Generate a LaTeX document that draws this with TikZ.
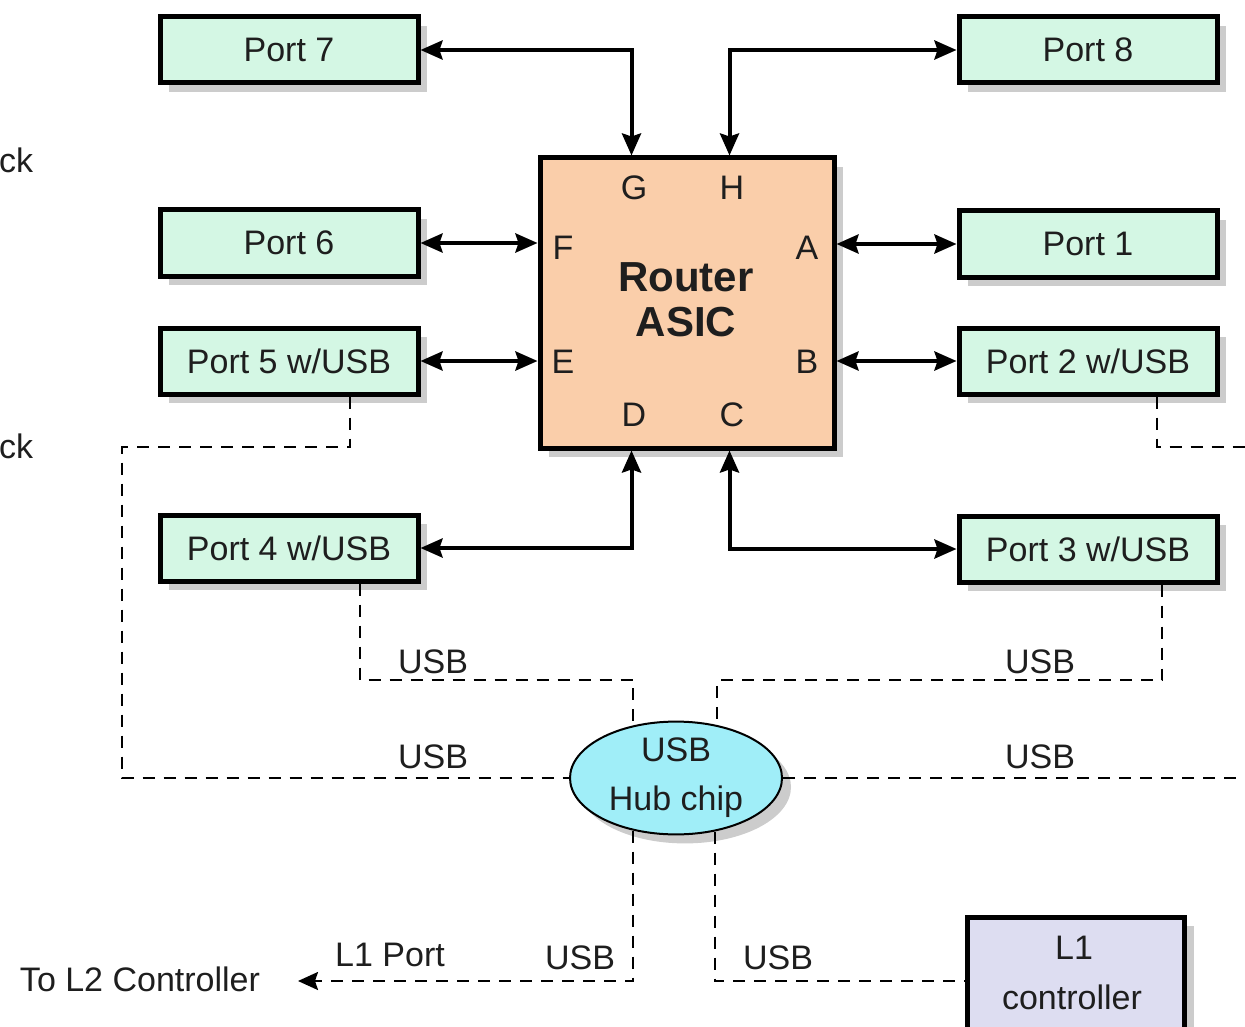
\documentclass[tikz,border=0pt]{standalone}
\usepackage{fontspec}
\setmainfont{Liberation Sans}
\usetikzlibrary{arrows.meta,shadows,shapes.geometric}
\definecolor{portfill}{RGB}{212,247,228}
\definecolor{asicfill}{RGB}{250,206,170}
\definecolor{hubfill}{RGB}{160,238,248}
\definecolor{lfill}{RGB}{221,221,241}
\definecolor{txt}{RGB}{30,30,30}
\tikzset{
  shad/.style={drop shadow={shadow xshift=9pt,shadow yshift=-9pt,fill=black,opacity=0.2}},
  portbox/.style={draw=black,line width=5pt,fill=portfill,minimum width=258pt,minimum height=66pt,
     inner sep=0pt,shad,font=\fontsize{34}{38}\selectfont,text=txt},
  lbl/.style={font=\fontsize{34}{38}\selectfont,text=txt,inner sep=0pt},
  bi/.style={line width=4pt,{Stealth[length=22pt,width=19pt,inset=3pt]}-{Stealth[length=22pt,width=19pt,inset=3pt]}},
  usb/.style={line width=2.2pt,dash pattern=on 12pt off 9pt},
}
\begin{document}
\begin{tikzpicture}[x=1pt,y=-1pt]
\useasboundingbox (0,0) rectangle (1245,1027);
\clip (0,0) rectangle (1245,1027);
\fill[white] (0,0) rectangle (1245,1027);

% ports
\node[portbox] (p7) at (289,50) {Port 7};
\node[portbox] (p8) at (1088,50) {Port 8};
\node[portbox] (p6) at (289,243) {Port 6};
\node[portbox] (p1) at (1088,244) {Port 1};
\node[portbox] (p5) at (289,361) {Port 5 w/USB};
\node[portbox] (p2) at (1088,361) {Port 2 w/USB};
\node[portbox] (p4) at (289,548) {Port 4 w/USB};
\node[portbox] (p3) at (1088,549) {Port 3 w/USB};

% router asic
\node[draw=black,line width=5pt,fill=asicfill,minimum width=294pt,minimum height=290pt,shad] (asic) at (687,303) {};
\node[font=\bfseries\fontsize{42}{45}\selectfont,text=txt,align=center,inner sep=0pt] (asictxt) at (686,300) {Router\\ASIC};
\node[lbl] (lg) at (634,188) {G};
\node[lbl] (lh) at (732,188) {H};
\node[lbl] (lf) at (563,248) {F};
\node[lbl] (la) at (807,248) {A};
\node[lbl] (le) at (563,362) {E};
\node[lbl] (lb) at (807,362) {B};
\node[lbl] (ld) at (634,415) {D};
\node[lbl] (lc) at (732,415) {C};

\coordinate (gN) at ([xshift=94pt]asic.north west);
\coordinate (hN) at ([xshift=192pt]asic.north west);
\coordinate (dS) at ([xshift=94pt]asic.south west);
\coordinate (cS) at ([xshift=192pt]asic.south west);

% hub
\node[ellipse,draw=black,line width=2pt,fill=hubfill,minimum width=212pt,minimum height=106pt,inner sep=0pt,shad,
  font=\fontsize{34}{49}\selectfont,text=txt,align=center] (hub) at (676,778) {USB\\Hub chip};

% L1 controller
\node[draw=black,line width=5pt,fill=lfill,minimum width=217pt,minimum height=128pt,shad,inner sep=0pt] (l1) at (1076,981) {};
\node[lbl] (l1a) at (1074,948) {L1};
\node[lbl] (l1b) at (1072,997) {controller};

% solid links
\draw[bi] (p7.east) -| (gN);
\draw[bi] (p8.west) -| (hN);
\draw[bi] (p6.east) -- (p6.east -| asic.west);
\draw[bi] (p5.east) -- (p5.east -| asic.west);
\draw[bi] (p1.west) -- (p1.west -| asic.east);
\draw[bi] (p2.west) -- (p2.west -| asic.east);
\draw[bi] (p4.east) -| (dS);
\draw[bi] (p3.west) -| (cS);

% dashed usb links
\coordinate (u5) at ([xshift=61pt]p5.south);
\coordinate (u2) at ([xshift=69pt]p2.south);
\coordinate (u4) at ([xshift=71pt]p4.south);
\coordinate (u3) at ([xshift=74pt]p3.south);
\coordinate (rowA) at (0,447);
\coordinate (rowB) at (0,680);
\coordinate (leftcol) at (122,0);
\coordinate (redge) at (1250,0);
\coordinate (tol2) at (298,981);

\draw[usb] (u5) -- (u5 |- rowA) -- (leftcol |- rowA) -- (leftcol |- hub.west) -- (hub.west);
\draw[usb] (u2) -- (u2 |- rowA) -- (redge |- rowA);
\draw[usb] (hub.east) -- (redge |- hub.east);
\draw[usb] (u4) -- (u4 |- rowB) -- (hub.129 |- rowB) -- (hub.129);
\draw[usb] (u3) -- (u3 |- rowB) -- (hub.52.5 |- rowB) -- (hub.52.5);
\draw[usb,-{Stealth[length=20pt,width=18pt,inset=3pt]}] (hub.-129) |- (tol2);
\draw[usb] (hub.-54) |- (l1.west);

% labels
\node[lbl] (t1) at (433,662) {USB};
\node[lbl] (t2) at (1040,662) {USB};
\node[lbl] (t3) at (433,757) {USB};
\node[lbl] (t4) at (1040,757) {USB};
\node[lbl] (t5) at (580,958) {USB};
\node[lbl] (t6) at (390,955) {L1 Port};
\node[lbl] (t7) at (778,958) {USB};
\node[lbl] (t8) at (140,979) {To L2 Controller};
\node[lbl,anchor=west] (ck1) at (-1,160) {ck};
\node[lbl,anchor=west] (ck2) at (-1,446) {ck};
\end{tikzpicture}
\end{document}
